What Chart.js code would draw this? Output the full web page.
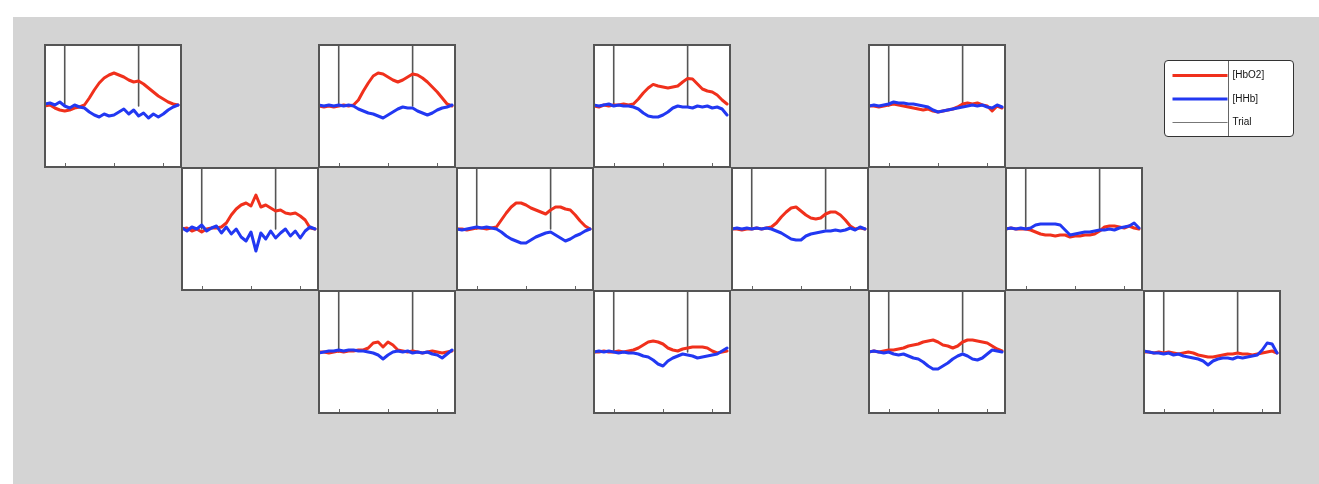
<!doctype html>
<html lang="en">
<head>
<meta charset="utf-8">
<title>Block averages</title>
<script src="https://cdn.jsdelivr.net/npm/chart.js@4.4.0/dist/chart.umd.min.js"></script>
<style>
    body { margin: 0; background: #fff; font-family: "Liberation Sans", Arial, sans-serif; }
    #fig { position: absolute; left: 13px; top: 17px; right: 0; bottom: 0; background: #d4d4d4; }
    .panel { position: absolute; width: 138px; height: 124px; box-sizing: border-box;
             border: 2px solid #555; background: #fff; }
    #legend { position: absolute; left: 1164px; top: 60px; width: 130px; height: 77px; box-sizing: border-box;
              border: 1px solid #333; border-radius: 4px; background: #fff; }
    #legendSplit { position: absolute; left: 63px; top: 0; width: 0; height: 75px; border-left: 1px solid #666; }
    #legendWrap { position: absolute; left: -6px; top: -4.5px; width: 136px; height: 92px; }
</style>
</head>
<body>
<div id="fig"></div>
<div id="panels"></div>
<div id="legend"><div id="legendSplit"></div><div id="legendWrap"><canvas id="legendChart"></canvas></div></div>

<script>
    // time axis (s), shared by every channel
    var time = [-4, -3, -2, -1, 0, 1, 2, 3, 4, 5, 6, 7, 8, 9, 10, 11, 12, 13, 14, 15, 16, 17, 18, 19, 20, 21, 22, 23];
    var trialOnsets = [0, 15];
    var xTicks = [0, 10, 20];

    // channel 1..12, [HbO2] and [HHb]
    var ch1_hbo = [0, 0.05, -0.1, -0.2, -0.25, -0.2, -0.1, -0.05, 0.05, 0.4, 0.8, 1.15, 1.4, 1.55, 1.65, 1.55, 1.45, 1.3, 1.2, 1.25, 1.1, 0.9, 0.7, 0.5, 0.35, 0.2, 0.1, 0.05];
    var ch1_hhb = [0.1, 0.15, 0.05, 0.2, 0, -0.1, 0.05, -0.05, -0.1, -0.3, -0.45, -0.55, -0.4, -0.5, -0.45, -0.3, -0.15, -0.4, -0.2, -0.5, -0.35, -0.6, -0.4, -0.55, -0.4, -0.2, -0.05, 0.05];
    var ch2_hbo = [0, -0.05, 0, -0.05, 0, 0.05, 0, 0.05, 0.3, 0.75, 1.15, 1.5, 1.65, 1.6, 1.45, 1.3, 1.2, 1.3, 1.45, 1.6, 1.55, 1.4, 1.2, 0.95, 0.7, 0.4, 0.1, 0];
    var ch2_hhb = [0.05, 0, 0.05, 0, 0.05, 0, 0.05, 0, -0.15, -0.25, -0.35, -0.4, -0.5, -0.6, -0.45, -0.3, -0.15, -0.05, -0.1, -0.1, -0.25, -0.35, -0.45, -0.35, -0.2, -0.1, -0.05, 0.05];
    var ch3_hbo = [0, -0.05, 0.05, 0, 0.05, 0.05, 0.1, 0.05, 0.1, 0.35, 0.65, 0.9, 1.08, 1.0, 0.95, 0.9, 0.95, 1.0, 1.2, 1.38, 1.35, 1.1, 0.85, 0.75, 0.7, 0.55, 0.3, 0.1];
    var ch3_hhb = [0.05, 0, 0.05, 0.1, 0, 0.05, 0, 0, -0.05, -0.15, -0.35, -0.5, -0.55, -0.55, -0.45, -0.3, -0.1, 0, -0.05, -0.05, -0.1, 0, -0.05, 0, -0.1, -0.05, -0.15, -0.45];
    var ch4_hbo = [0, 0, -0.05, 0, 0.05, 0.1, 0.05, 0, -0.05, -0.1, -0.15, -0.2, -0.15, -0.25, -0.3, -0.25, -0.2, -0.15, -0.05, 0.1, 0.15, 0.1, 0.15, 0.05, 0, -0.25, 0, -0.1];
    var ch4_hhb = [0, 0.05, 0, 0.05, 0.1, 0.2, 0.15, 0.15, 0.1, 0.1, 0.05, 0, -0.05, -0.2, -0.3, -0.25, -0.2, -0.15, -0.1, -0.05, 0, 0.05, 0, 0.05, -0.05, -0.1, 0.05, -0.05];
    var ch5_hbo = [0, 0.05, -0.1, 0, -0.15, 0, 0.05, 0.05, 0.1, 0.3, 0.7, 1.0, 1.2, 1.3, 1.15, 1.7, 1.1, 1.2, 1.05, 0.9, 0.95, 0.8, 0.75, 0.8, 0.65, 0.45, 0.05, 0];
    var ch5_hhb = [0.05, -0.1, 0.1, 0, 0.2, -0.1, 0.05, 0.15, -0.2, 0.1, -0.25, 0, -0.4, -0.6, -0.15, -1.1, -0.2, -0.5, -0.1, -0.45, -0.2, 0, -0.35, -0.1, -0.45, -0.1, 0.1, 0];
    var ch6_hbo = [0, 0, -0.05, 0, 0.05, 0.05, 0, 0.05, 0.1, 0.45, 0.8, 1.1, 1.3, 1.3, 1.2, 1.05, 0.95, 0.85, 0.75, 0.95, 1.1, 1.1, 1.0, 0.95, 0.7, 0.4, 0.15, 0];
    var ch6_hhb = [0, -0.05, 0, 0.05, 0.1, 0.05, 0.1, 0.05, 0, -0.15, -0.35, -0.5, -0.6, -0.7, -0.7, -0.55, -0.4, -0.3, -0.2, -0.15, -0.3, -0.45, -0.6, -0.5, -0.35, -0.25, -0.1, 0];
    var ch7_hbo = [0, 0, -0.05, 0, 0, 0.05, 0, 0.05, 0.1, 0.3, 0.6, 0.85, 1.05, 1.1, 0.9, 0.7, 0.55, 0.5, 0.55, 0.75, 0.85, 0.85, 0.7, 0.45, 0.15, 0, 0.05, 0];
    var ch7_hhb = [0, 0.05, 0, 0.05, 0, 0.05, 0, 0.05, 0, -0.1, -0.2, -0.35, -0.5, -0.55, -0.55, -0.35, -0.25, -0.2, -0.15, -0.1, -0.1, -0.05, -0.1, -0.05, 0.05, -0.05, 0.1, 0];
    var ch8_hbo = [0, 0.05, 0, 0, 0, -0.05, -0.15, -0.25, -0.3, -0.3, -0.35, -0.3, -0.3, -0.4, -0.35, -0.35, -0.3, -0.3, -0.25, -0.1, 0.1, 0.15, 0.15, 0.1, 0.05, 0.15, 0.05, 0];
    var ch8_hhb = [0, 0.05, 0, 0.05, 0, 0.05, 0.2, 0.25, 0.25, 0.25, 0.25, 0.2, -0.05, -0.3, -0.25, -0.2, -0.15, -0.15, -0.1, -0.05, -0.05, 0, -0.05, 0.05, 0.1, 0.15, 0.3, 0.05];
    var ch9_hbo = [0, 0, -0.05, 0, 0.05, 0, 0.05, 0.05, 0.1, 0.1, 0.2, 0.45, 0.5, 0.25, 0.5, 0.35, 0.1, 0.05, 0, 0.05, 0, -0.05, 0, 0.05, 0, -0.05, 0, 0.05];
    var ch9_hhb = [-0.05, 0, 0.05, 0.05, 0.1, 0.05, 0.1, 0.1, 0.05, 0.05, 0, -0.05, -0.15, -0.35, -0.15, 0, 0.05, 0, 0.05, -0.05, 0, -0.05, 0, -0.1, -0.15, -0.3, -0.1, 0.1];
    var ch10_hbo = [0, 0, 0.05, 0, 0, 0.05, 0, 0.05, 0.1, 0.2, 0.35, 0.5, 0.55, 0.5, 0.4, 0.2, 0.1, 0.05, 0.15, 0.2, 0.25, 0.25, 0.25, 0.2, 0.05, -0.05, 0, 0.05];
    var ch10_hhb = [0, 0.05, 0, 0.05, 0, -0.05, 0, -0.05, -0.05, -0.1, -0.2, -0.25, -0.4, -0.6, -0.7, -0.45, -0.3, -0.2, -0.1, -0.15, -0.2, -0.3, -0.25, -0.2, -0.15, -0.1, 0.05, 0.2];
    var ch11_hbo = [0, 0.05, 0, 0.05, 0.1, 0.1, 0.15, 0.2, 0.3, 0.35, 0.4, 0.5, 0.55, 0.6, 0.5, 0.35, 0.3, 0.2, 0.3, 0.5, 0.6, 0.6, 0.55, 0.5, 0.45, 0.3, 0.15, 0.05];
    var ch11_hhb = [0, 0.05, 0, -0.05, 0, -0.1, -0.15, -0.1, -0.2, -0.3, -0.35, -0.5, -0.7, -0.85, -0.85, -0.7, -0.55, -0.35, -0.2, -0.1, -0.2, -0.35, -0.4, -0.3, -0.1, 0.1, 0.05, 0];
    var ch12_hbo = [0, 0, -0.05, 0, -0.05, 0, -0.05, -0.1, -0.05, 0, -0.05, -0.15, -0.2, -0.25, -0.25, -0.2, -0.15, -0.1, -0.1, -0.05, -0.1, -0.1, -0.15, -0.1, -0.05, 0, 0.05, -0.05];
    var ch12_hhb = [0.05, 0, -0.05, -0.05, -0.1, -0.05, -0.15, -0.1, -0.2, -0.25, -0.3, -0.35, -0.45, -0.65, -0.45, -0.35, -0.3, -0.3, -0.35, -0.25, -0.3, -0.25, -0.2, -0.15, 0.1, 0.45, 0.4, -0.05];

    var hbo = [ch1_hbo, ch2_hbo, ch3_hbo, ch4_hbo, ch5_hbo, ch6_hbo, ch7_hbo, ch8_hbo, ch9_hbo, ch10_hbo, ch11_hbo, ch12_hbo];
    var hhb = [ch1_hhb, ch2_hhb, ch3_hhb, ch4_hhb, ch5_hhb, ch6_hhb, ch7_hhb, ch8_hhb, ch9_hhb, ch10_hhb, ch11_hhb, ch12_hhb];

    // probe layout: [row, col] for each channel
    var grid = [[0,0],[0,2],[0,4],[0,6],[1,1],[1,3],[1,5],[1,7],[2,2],[2,4],[2,6],[2,8]];

    var RED = '#f0301c', BLUE = '#2238f2', GREY = '#555';
    var yMax = 3, yMin = -3;

    function xy(ys) {
        return time.map(function (t, i) { return { x: t, y: ys[i] }; });
    }
    function trialLines() {
        var pts = [];
        trialOnsets.forEach(function (t, i) {
            if (i > 0) pts.push({ x: t, y: null });
            pts.push({ x: t, y: yMax }, { x: t, y: 0 });
        });
        return pts;
    }

    // small inward tick marks on the bottom edge
    var innerTicks = {
        id: 'innerTicks',
        afterDraw: function (chart) {
            var ctx = chart.ctx, area = chart.chartArea, sx = chart.scales.x;
            ctx.save();
            ctx.strokeStyle = '#666';
            ctx.lineWidth = 1;
            xTicks.forEach(function (t) {
                var px = Math.round(sx.getPixelForValue(t)) + 0.5;
                ctx.beginPath();
                ctx.moveTo(px, area.bottom);
                ctx.lineTo(px, area.bottom - 3);
                ctx.stroke();
            });
            ctx.restore();
        }
    };

    var holder = document.getElementById('panels');
    grid.forEach(function (pos, k) {
        var div = document.createElement('div');
        div.className = 'panel';
        div.style.left = (43.5 + 137.4 * pos[1]) + 'px';
        div.style.top = (43.5 + 123 * pos[0]) + 'px';
        var cv = document.createElement('canvas');
        div.appendChild(cv);
        holder.appendChild(div);

        new Chart(cv, {
            type: 'line',
            data: {
                datasets: [
                    { label: '[HHb]', data: xy(hhb[k]), borderColor: BLUE, borderWidth: 3 },
                    { label: '[HbO2]', data: xy(hbo[k]), borderColor: RED, borderWidth: 3 },
                    { label: 'Trial', data: trialLines(), borderColor: GREY, borderWidth: 1.6, spanGaps: false }
                ]
            },
            options: {
                responsive: true,
                maintainAspectRatio: false,
                animation: false,
                events: [],
                elements: { point: { radius: 0 }, line: { tension: 0, borderJoinStyle: 'round', borderCapStyle: 'round' } },
                layout: { padding: 0 },
                plugins: { legend: { display: false }, tooltip: { enabled: false } },
                scales: {
                    x: { type: 'linear', min: -3.8, max: 23.4, display: false },
                    y: { min: yMin, max: yMax, display: false }
                }
            },
            plugins: [innerTicks]
        });
    });

    // legend box
    new Chart(document.getElementById('legendChart'), {
        type: 'line',
        data: {
            datasets: [
                { label: '[HbO2]', data: [], borderColor: RED, backgroundColor: RED, borderWidth: 3 },
                { label: '[HHb]', data: [], borderColor: BLUE, backgroundColor: BLUE, borderWidth: 3 },
                { label: 'Trial', data: [], borderColor: '#777', backgroundColor: '#777', borderWidth: 1 }
            ]
        },
        options: {
            responsive: true,
            maintainAspectRatio: false,
            animation: false,
            events: [],
            layout: { padding: 0 },
            plugins: {
                tooltip: { enabled: false },
                legend: {
                    position: 'top',
                    align: 'start',
                    maxHeight: 200,
                    labels: {
                        usePointStyle: true,
                        pointStyle: 'line',
                        pointStyleWidth: 55,
                        boxHeight: 9,
                        padding: 13.5,
                        color: '#111',
                        font: { family: '"Liberation Sans", Arial, sans-serif', size: 10 }
                    }
                }
            },
            scales: { x: { display: false }, y: { display: false } }
        }
    });
</script>
</body>
</html>
